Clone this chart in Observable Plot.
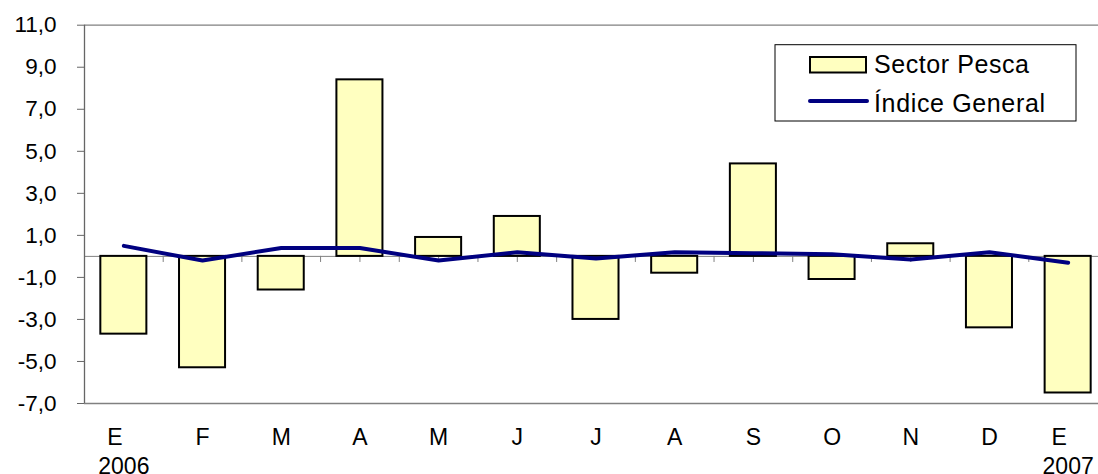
<!DOCTYPE html>
<html><head><meta charset="utf-8">
<script src="https://cdn.jsdelivr.net/npm/d3@7"></script>
<script src="https://cdn.jsdelivr.net/npm/@observablehq/plot@0.6"></script>
<style>body{margin:0;background:#fff}</style>
</head><body><div id="chart"></div>
<script>
const monthLabels = ["E","F","M","A","M","J","J","A","S","O","N","D","E"];
const yearLabels = ["2006","","","","","","","","","","","","2007"];
const sectorPesca = [-3.7,-5.3,-1.6,8.4,0.9,1.9,-3.0,-0.8,4.4,-1.1,0.6,-3.4,-6.5];
const indiceGeneral = [0.5,-0.2,0.4,0.4,-0.2,0.2,-0.1,0.2,0.15,0.1,-0.15,0.2,-0.3];
const yTicks = [-7,-5,-3,-1,1,3,5,7,9,11];
const seriesNames = ["Sector Pesca","Índice General"];

const data = monthLabels.map((m,i)=>({i, m, year: yearLabels[i], pesca: sectorPesca[i], general: indiceGeneral[i]}));
const withYear = data.filter(d => d.year !== "");
const noYear = data.filter(d => d.year === "");
const x0 = 84, x1 = 1107;
const step = (x1 - x0) / monthLabels.length;
const fmt = d => d.toFixed(1).replace(".", ",");
const font = "'Liberation Sans', Arial, sans-serif";

const plot = Plot.plot({
  width: 1098, height: 474,
  marginLeft: 84, marginRight: 0, marginTop: 24.7, marginBottom: 71,
  style: {fontFamily: font, background: "#fff", color: "#000", overflow: "hidden"},
  x: {type: "band", domain: data.map(d => d.i), range: [x0, x1], round: false, paddingInner: 0.415, paddingOuter: 0.2075, axis: null, label: null},
  y: {domain: [-7, 11], label: null},
  marks: [
    Plot.ruleY([0], {stroke: "#808080", strokeWidth: 1}),
    Plot.ruleX(data, {x: "i", y1: 0, y2: -0.29, stroke: "#808080", strokeWidth: 1}),
    Plot.ruleX(data, {x: "i", y1: 0, y2: -0.29, dx: -step / 2, stroke: "#808080", strokeWidth: 1}),
    Plot.barY(data, {x: "i", y: "pesca", fill: "#FFFFC0", stroke: "#000", strokeWidth: 2}),
    Plot.line(data, {x: "i", y: "general", stroke: "#000080", strokeWidth: 4, strokeLinecap: "round", strokeLinejoin: "round"}),
    Plot.ruleY([11, -7], {stroke: "#808080", strokeWidth: 1.3}),
    Plot.ruleX([data[0]], {x: "i", dx: -step / 2, stroke: "#666", strokeWidth: 1.3}),
    Plot.axisY(yTicks, {tickSize: 7, tickPadding: 21, tickFormat: fmt, fontSize: 22.5, stroke: "#666", fill: "#000", label: null}),
    Plot.text(noYear, {x: "i", text: "m", frameAnchor: "bottom", lineAnchor: "top", dy: 25, fontSize: 23, fill: "#000"}),
    Plot.text(withYear, {x: "i", text: "m", frameAnchor: "bottom", lineAnchor: "top", dy: 25, dx: -9, fontSize: 23, fill: "#000"}),
    Plot.text(withYear, {x: "i", text: "year", frameAnchor: "bottom", lineAnchor: "top", dy: 54, fontSize: 23, fill: "#000"})
  ]
});
document.getElementById("chart").appendChild(plot);

// legend inside the plot area
const svg = d3.select(plot);
const lg = svg.append("g").attr("font-family", font).attr("font-size", 25).attr("text-anchor", "start");
lg.append("rect").attr("x", 775).attr("y", 44.7).attr("width", 301).attr("height", 76.3)
  .attr("fill", "#fff").attr("stroke", "#000").attr("stroke-width", 1);
lg.append("rect").attr("x", 810).attr("y", 57).attr("width", 56).attr("height", 15.5)
  .attr("fill", "#FFFFC0").attr("stroke", "#000").attr("stroke-width", 2);
lg.append("text").attr("x", 874).attr("y", 73.3).attr("textLength", 155).text(seriesNames[0]);
lg.append("line").attr("x1", 810).attr("x2", 867).attr("y1", 101).attr("y2", 101)
  .attr("stroke", "#000080").attr("stroke-width", 4).attr("stroke-linecap", "round");
lg.append("text").attr("x", 874).attr("y", 111.7).attr("textLength", 171).text(seriesNames[1]);
</script>
</body></html>
